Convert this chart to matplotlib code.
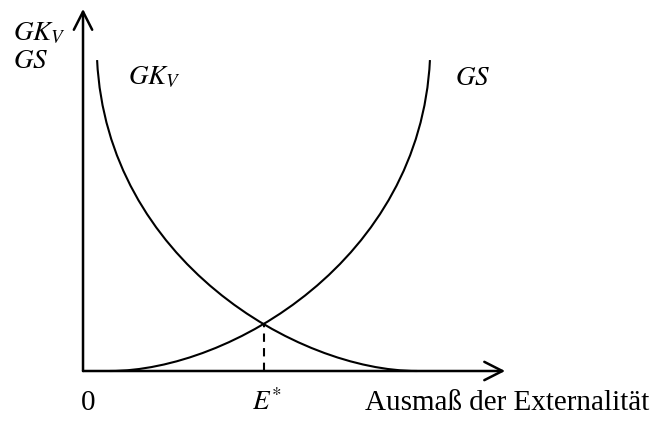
import matplotlib.pyplot as plt
from matplotlib.path import Path
from matplotlib.patches import PathPatch

plt.rcParams['font.family'] = ['Liberation Serif', 'DejaVu Serif']
plt.rcParams['mathtext.fontset'] = 'stix'

# Bezier control points of the two curves (x = Ausmass, y = Kosten/Schaden)
gs_x = [0.84, 4.59, 10.53, 10.84]
gs_y = [0.0, 0.0, 3.58, 10.03]
gk_x = [0.44, 0.75, 6.69, 10.44]
gk_y = [10.03, 3.58, 0.0, 0.0]

# optimum
e_star = 5.64
e_level = 1.5

x_max = 13.19
y_max = 11.68

fig = plt.figure(figsize=(6.53, 4.21), dpi=100)
ax = fig.add_axes([0, 0, 1, 1])
ax.set_xlim(-2.594, 17.81)
ax.set_ylim(-1.613, 11.968)
ax.axis('off')

codes = [Path.MOVETO, Path.CURVE4, Path.CURVE4, Path.CURVE4]
for xs, ys in [(gs_x, gs_y), (gk_x, gk_y)]:
    p = Path(list(zip(xs, ys)), codes)
    ax.add_patch(PathPatch(p, facecolor='none', edgecolor='black', lw=1.5))

# axes with open arrow heads
arr = dict(arrowstyle='->,head_length=0.65,head_width=0.33', lw=1.8,
           color='black', mutation_scale=20, shrinkA=0, shrinkB=0)
ax.annotate('', xy=(x_max, 0), xytext=(0, 0), arrowprops=arr)
ax.annotate('', xy=(0, y_max), xytext=(0, 0), arrowprops=arr)

ax.plot([e_star, e_star], [0, e_level], ls=(0, (4, 3)), color='black', lw=1.5)

fm = 19.5
ft = 21
ax.text(-2.2, 10.9, r'$GK_V$', fontsize=fm, va='center', ha='left')
ax.text(-2.2, 9.97, r'$GS$', fontsize=fm, va='center', ha='left')
ax.text(1.4, 9.45, r'$GK_V$', fontsize=fm, va='center', ha='left')
ax.text(11.63, 9.45, r'$GS$', fontsize=fm, va='center', ha='left')
ax.text(0.16, -1.03, '0', fontsize=ft, va='center', ha='center')
ax.text(5.75, -1.03, r'$E^{*}$', fontsize=fm, va='center', ha='center')
ax.text(8.81, -1.03, 'Ausmaß der Externalität', fontsize=ft, va='center', ha='left')

fig.savefig('out.png', dpi=100)
